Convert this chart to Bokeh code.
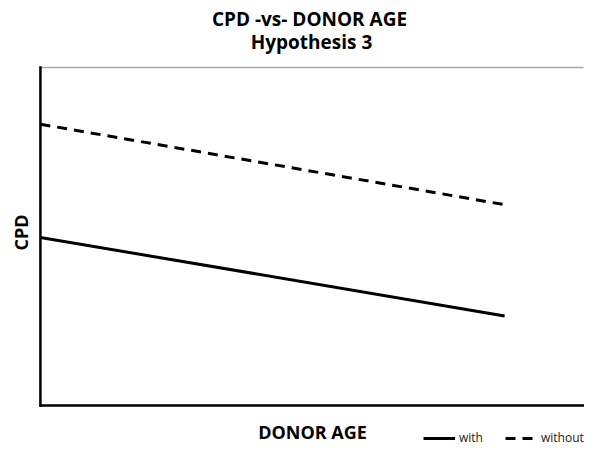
import numpy as np
from bokeh.plotting import figure
from bokeh.models import Range1d, Legend, LegendItem, Label
from bokeh.embed import file_html
from bokeh.resources import INLINE

# Data
donor_age = [0, 10]
cpd_with = [4.97, 2.65]
cpd_without = [8.32, 5.94]
series_names = ["with", "without"]
title_lines = ["CPD -vs- DONOR AGE", "Hypothesis 3"]
x_label = "DONOR AGE"
y_label = "CPD"

# axis extents (data units)
x_lo, x_hi = 0, 11.7
y_lo, y_hi = 0, 10

FONT = "Open Sans"
W, H = 584, 447

p = figure(width=W, height=H, output_backend="svg", toolbar_location=None,
           x_range=Range1d(-0.86, 11.72), y_range=Range1d(-1.243, 11.98),
           min_border=0, min_border_left=0, min_border_right=0,
           min_border_top=0, min_border_bottom=0)
p.outline_line_color = None
p.xaxis.visible = False
p.yaxis.visible = False
p.xgrid.visible = False
p.ygrid.visible = False
p.background_fill_color = "white"
p.border_fill_color = "white"

# frame lines: top (light gray), left and bottom (black)
p.segment(x0=[x_lo], y0=[y_hi], x1=[x_hi], y1=[y_hi], line_color="#a8a8a8", line_width=1.5)
p.segment(x0=[x_lo, x_lo], y0=[y_lo, y_lo], x1=[x_lo, x_hi], y1=[y_hi, y_lo],
          line_color="black", line_width=2.5, line_cap="square")

r_with = p.line(donor_age, cpd_with, line_color="black", line_width=3)
r_without = p.line(donor_age, cpd_without, line_color="black", line_width=3, line_dash="10 7")

legend = Legend(items=[LegendItem(label=series_names[0], renderers=[r_with]),
                       LegendItem(label=series_names[1], renderers=[r_without])],
                location=(423, 1), orientation="horizontal",
                border_line_color=None, background_fill_alpha=0,
                padding=1, margin=0, spacing=22, glyph_width=32, glyph_height=12,
                label_height=12, label_standoff=4,
                label_text_font=FONT, label_text_font_size="12px",
                label_text_color="#222222")
p.add_layout(legend, "center")

def add_text(text, x, y, size, angle=0.0):
    p.add_layout(Label(x=x, y=y, x_units="screen", y_units="screen", text=text, angle=angle,
                       text_align="center", text_baseline="alphabetic", text_font=FONT,
                       text_font_size=size, text_font_style="bold", text_color="black"))

add_text(title_lines[0], 309, H - 18, "19px")
add_text(title_lines[1], 311, H - 41.5, "19px")
add_text(x_label, 312, H - 431, "18px")
add_text(y_label, 20, H - 232, "18px", angle=np.pi / 2)

open("out.html", "w").write(file_html(p, INLINE))
